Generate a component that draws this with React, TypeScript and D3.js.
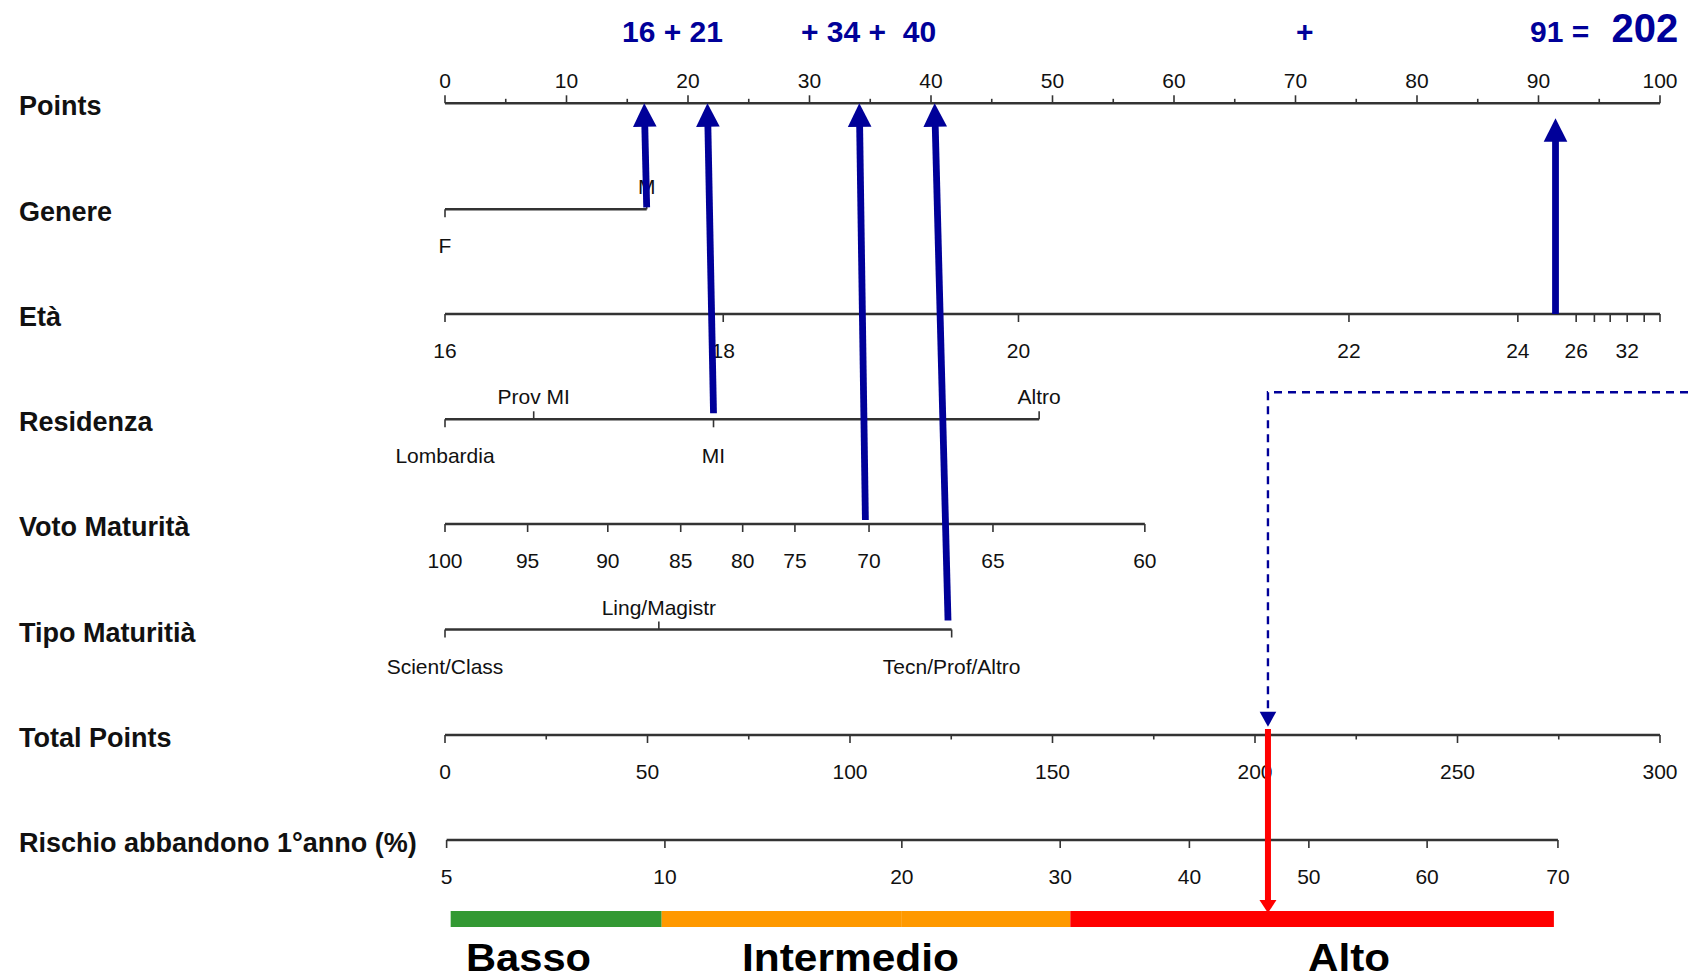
import React from 'react';
import * as d3 from 'd3';

// ---------------- DATA ----------------
const pointsMajor = [0, 10, 20, 30, 40, 50, 60, 70, 80, 90, 100];
const pointsMinor = [5, 15, 25, 35, 45, 55, 65, 75, 85, 95];

const genereLevels = ['F', 'M'];
const generePoints = [0, 16.6];
const genereSide = ['below', 'above'];

const etaTicks = [16, 18, 20, 22, 24, 26, 28, 30, 32, 34, 36];
const etaPoints = [0, 22.9, 47.2, 74.4, 88.3, 93.1, 94.6, 95.9, 97.3, 98.7, 100];
const etaLabeled = [16, 18, 20, 22, 24, 26, 32];

const residenzaLevels = ['Lombardia', 'Prov MI', 'MI', 'Altro'];
const residenzaPoints = [0, 7.3, 22.1, 48.9];
const residenzaSide = ['below', 'above', 'below', 'above'];

const votoTicks = [100, 95, 90, 85, 80, 75, 70, 65, 60];
const votoPoints = [0, 6.8, 13.4, 19.4, 24.5, 28.8, 34.9, 45.1, 57.6];

const tipoLevels = ['Scient/Class', 'Ling/Magistr', 'Tecn/Prof/Altro'];
const tipoPoints = [0, 17.6, 41.7];
const tipoSide = ['below', 'above', 'below'];

const totalMajor = [0, 50, 100, 150, 200, 250, 300];
const totalMinor = [25, 75, 125, 175, 225, 275];

const riskTicks = [5, 10, 20, 30, 40, 50, 60, 70];
const riskTotalPoints = [0.4, 54.3, 112.8, 151.9, 183.8, 213.3, 242.5, 274.8];

const scorePoints = [16, 21, 34, 40, 91];
const scoreTotal = 202;
const arrowRows = ['genere', 'residenza', 'voto', 'tipo', 'eta'];
const arrowFromPoints = [16.6, 22.1, 34.6, 41.4, 91.4];
const arrowToPoints = [16.4, 21.6, 34.1, 40.3, 91.4];
const totalMarker = 203.2;

const bandNames = ['Basso', 'Intermedio', 'Alto'];
const bandStart = [1.4, 53.5, 112.8, 154.4];
const bandEnd = [53.5, 112.8, 154.4, 273.8];
const bandClass = [0, 1, 1, 2];

// ---------------- LAYOUT / STYLE ----------------
const W = 1688;
const H = 980;
const FONT = '"Liberation Sans", Arial, sans-serif';
const NAVY = '#000099';
const AXIS = '#333333';
const bandColors = ['#339933', '#FF9900', '#FF0000'];
const rowY: Record<string, number> = {
  points: 103.3,
  genere: 209.3,
  eta: 314,
  residenza: 419.3,
  voto: 524,
  tipo: 629.5,
  total: 735,
  risk: 840,
};
const rowLabels: [string, string][] = [
  ['points', 'Points'],
  ['genere', 'Genere'],
  ['eta', 'Età'],
  ['residenza', 'Residenza'],
  ['voto', 'Voto Maturità'],
  ['tipo', 'Tipo Maturitià'],
  ['total', 'Total Points'],
  ['risk', 'Rischio abbandono 1°anno (%)'],
];
const arrowGap = [2, 6, 4, 9, 0];
const arrowTipY = [103.3, 103.3, 103.3, 103.3, 118.3];
const scoreTextX = [622, 801, 1296, 1530, 1611.5];
const bandLabelX = [466, 742, 1308];
const bandLabelW = [125, 217, 82];

const xP = d3.scaleLinear().domain([0, 100]).range([445, 1660]);
const xT = d3.scaleLinear().domain([0, 300]).range([445, 1660]);

type Tick = { x: number; label?: string; side: 'above' | 'below'; minor?: boolean };

function Axis({ y, ticks }: { y: number; ticks: Tick[] }) {
  const xs = ticks.map((t) => t.x);
  const x0 = d3.min(xs) as number;
  const x1 = d3.max(xs) as number;
  return (
    <g>
      <line x1={x0} x2={x1} y1={y} y2={y} stroke={AXIS} strokeWidth={2.4} />
      {ticks.map((t, i) => {
        const len = t.minor ? 4.5 : 8;
        const dir = t.side === 'above' ? -1 : 1;
        return (
          <g key={i}>
            <line x1={t.x} x2={t.x} y1={y} y2={y + dir * len} stroke={AXIS} strokeWidth={1.6} />
            {t.label !== undefined && (
              <text
                x={t.x}
                y={t.side === 'above' ? y - 15 : y + 44}
                textAnchor="middle"
                fontFamily={FONT}
                fontSize={21}
                fill="#111"
              >
                {t.label}
              </text>
            )}
          </g>
        );
      })}
    </g>
  );
}

function Arrow({ x1, y1, x2, y2 }: { x1: number; y1: number; x2: number; y2: number }) {
  const dx = x2 - x1;
  const dy = y2 - y1;
  const L = Math.hypot(dx, dy);
  const ux = dx / L;
  const uy = dy / L;
  const hl = 23.5;
  const hw = 11.8;
  const bx = x2 - ux * hl;
  const by = y2 - uy * hl;
  const px = -uy;
  const py = ux;
  const pts = [
    [x2, y2],
    [bx + px * hw, by + py * hw],
    [bx - px * hw, by - py * hw],
  ]
    .map((p) => p.join(','))
    .join(' ');
  return (
    <g>
      <line x1={x1} y1={y1} x2={bx + ux * 2} y2={by + uy * 2} stroke={NAVY} strokeWidth={6.8} />
      <polygon points={pts} fill={NAVY} />
    </g>
  );
}

export default function App() {
  const pointsTicks: Tick[] = [
    ...pointsMajor.map((v) => ({ x: xP(v), label: String(v), side: 'above' as const })),
    ...pointsMinor.map((v) => ({ x: xP(v), side: 'above' as const, minor: true })),
  ];
  const genereTicks: Tick[] = genereLevels.map((l, i) => ({
    x: xP(generePoints[i]),
    label: l,
    side: genereSide[i] as 'above' | 'below',
  }));
  const etaAxisTicks: Tick[] = etaTicks.map((v, i) => ({
    x: xP(etaPoints[i]),
    label: etaLabeled.includes(v) ? String(v) : undefined,
    side: 'below',
  }));
  const residenzaTicks: Tick[] = residenzaLevels.map((l, i) => ({
    x: xP(residenzaPoints[i]),
    label: l,
    side: residenzaSide[i] as 'above' | 'below',
  }));
  const votoAxisTicks: Tick[] = votoTicks.map((v, i) => ({
    x: xP(votoPoints[i]),
    label: String(v),
    side: 'below',
  }));
  const tipoTicks: Tick[] = tipoLevels.map((l, i) => ({
    x: xP(tipoPoints[i]),
    label: l,
    side: tipoSide[i] as 'above' | 'below',
  }));
  const totalTicks: Tick[] = [
    ...totalMajor.map((v) => ({ x: xT(v), label: String(v), side: 'below' as const })),
    ...totalMinor.map((v) => ({ x: xT(v), side: 'below' as const, minor: true })),
  ];
  const riskAxisTicks: Tick[] = riskTicks.map((v, i) => ({
    x: xT(riskTotalPoints[i]),
    label: String(v),
    side: 'below',
  }));

  const scoreTexts = [
    `${scorePoints[0]} + ${scorePoints[1]}`,
    `+ ${scorePoints[2]} +  ${scorePoints[3]}`,
    '+',
    `${scorePoints[4]} =`,
    `${scoreTotal}`,
  ];

  const mx = xT(totalMarker);
  const dashY = 392.3;
  const barY0 = 911;
  const barY1 = 927;

  return (
    <svg
      width={W}
      height={H}
      viewBox={`0 0 ${W} ${H}`}
      style={{ position: 'absolute', left: 0, top: 0, display: 'block', background: '#fff' }}
    >
      <rect x={0} y={0} width={W} height={H} fill="#fff" />

      {rowLabels.map(([k, t]) => (
        <text
          key={k}
          x={19}
          y={rowY[k] + 12}
          fontFamily={FONT}
          fontWeight="bold"
          fontSize={27}
          fill="#111"
        >
          {t}
        </text>
      ))}

      <Axis y={rowY.points} ticks={pointsTicks} />
      <Axis y={rowY.genere} ticks={genereTicks} />
      <Axis y={rowY.eta} ticks={etaAxisTicks} />
      <Axis y={rowY.residenza} ticks={residenzaTicks} />
      <Axis y={rowY.voto} ticks={votoAxisTicks} />
      <Axis y={rowY.tipo} ticks={tipoTicks} />
      <Axis y={rowY.total} ticks={totalTicks} />
      <Axis y={rowY.risk} ticks={riskAxisTicks} />

      {/* score annotation */}
      {scoreTexts.map((t, i) => (
        <text
          key={i}
          x={scoreTextX[i]}
          y={41.7}
          fontFamily={FONT}
          fontWeight="bold"
          fontSize={i === 4 ? 40 : 30}
          fill={NAVY}
          style={{ whiteSpace: 'pre' }}
        >
          {t}
        </text>
      ))}

      {/* arrows from variables to points */}
      {arrowRows.map((r, i) => (
        <Arrow
          key={i}
          x1={xP(arrowFromPoints[i])}
          y1={rowY[r] - arrowGap[i]}
          x2={xP(arrowToPoints[i])}
          y2={arrowTipY[i]}
        />
      ))}

      {/* dashed path to total points */}
      <path
        d={`M${W},${dashY} H${mx} V${rowY.total - 22}`}
        fill="none"
        stroke={NAVY}
        strokeWidth={2.4}
        strokeDasharray="8,6"
      />
      <polygon
        points={`${mx - 8.3},${rowY.total - 23.3} ${mx + 8.3},${rowY.total - 23.3} ${mx},${rowY.total - 8.3}`}
        fill={NAVY}
      />

      {/* risk bands */}
      {bandStart.map((s, i) => (
        <rect
          key={i}
          x={xT(s)}
          y={barY0}
          width={xT(bandEnd[i]) - xT(s)}
          height={barY1 - barY0}
          fill={bandColors[bandClass[i]]}
        />
      ))}

      {/* red arrow */}
      <line x1={mx} x2={mx} y1={rowY.total - 6} y2={barY0 - 10} stroke="#FF0000" strokeWidth={6} />
      <polygon
        points={`${mx - 8.5},${barY0 - 11} ${mx + 8.5},${barY0 - 11} ${mx},${barY0 + 2}`}
        fill="#FF0000"
      />

      {bandNames.map((n, i) => (
        <text
          key={n}
          x={bandLabelX[i]}
          y={971}
          fontFamily={FONT}
          fontWeight="bold"
          fontSize={38}
          textLength={bandLabelW[i]}
          lengthAdjust="spacingAndGlyphs"
          fill="#000"
        >
          {n}
        </text>
      ))}
    </svg>
  );
}
